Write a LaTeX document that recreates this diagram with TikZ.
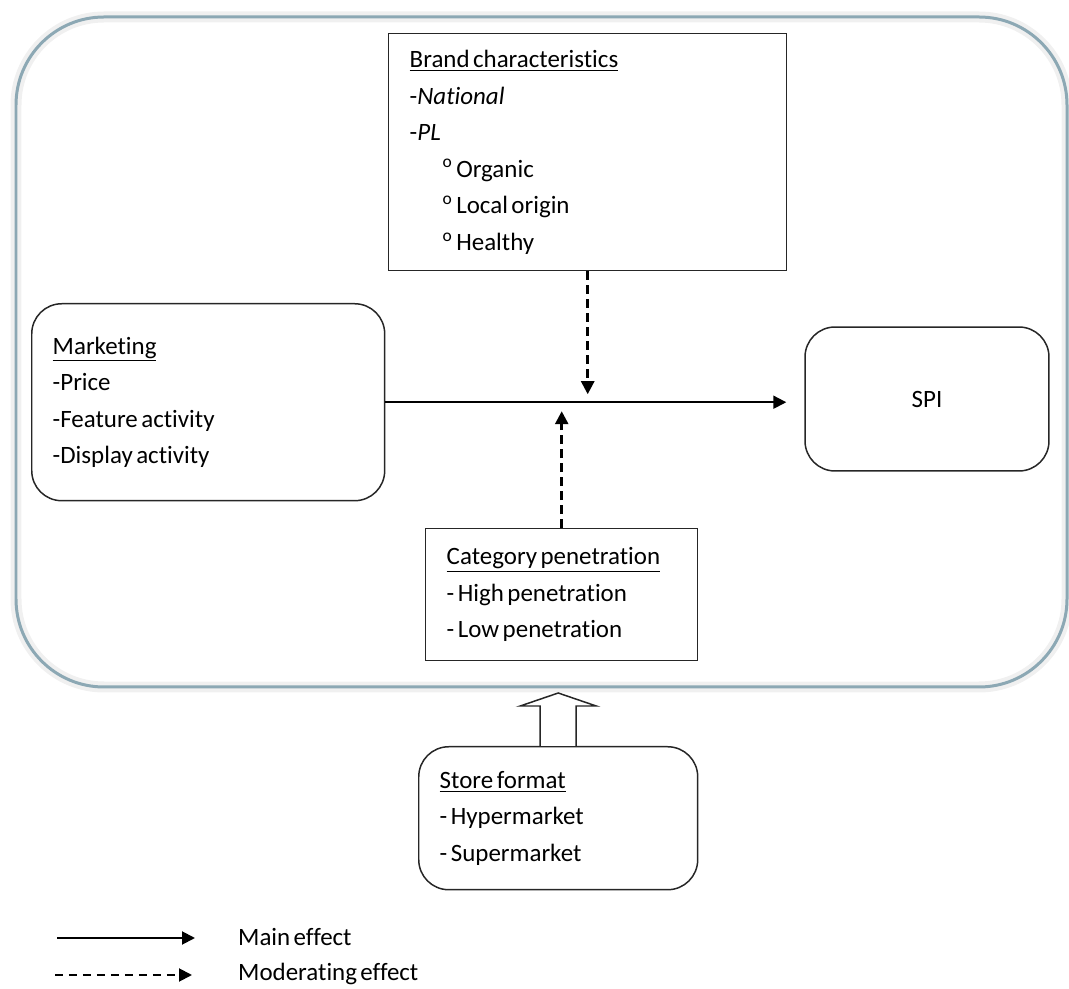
\documentclass[tikz,border=0pt]{standalone}
\usepackage{fontspec}
\setmainfont{Carlito}[WordSpace=0.6, Ligatures=CommonOff]
\usetikzlibrary{arrows.meta, positioning, calc}
\definecolor{framecol}{RGB}{140,168,180}

\begin{document}
\begin{tikzpicture}[
    x=0.02cm, y=-0.02cm,
    font=\fontsize{14.2pt}{20.8pt}\selectfont,
    box/.style={rectangle, draw=black!85, line width=0.85pt, align=left, inner xsep=0.42cm, inner ysep=0pt,
        execute at begin node={\spaceskip=0.14em\relax}},
    rbox/.style={box, rounded corners=0.6cm},
    arrow/.style={-{Triangle[length=0.26cm, width=0.26cm]}, line width=1.1pt},
    modarrow/.style={arrow, dash pattern=on 0.16cm off 0.12cm},
    modlink/.style={arrow, line width=1.5pt, dash pattern=on 0.18cm off 0.1cm},
    blockarrow/.style={draw=black!85, line width=0.85pt, fill=white}
]
\useasboundingbox (0,0) rectangle (1069,989);

% Frame
\draw[gray!12, line width=0.22cm, rounded corners=1.76cm] (16,17) rectangle (1067,687);
\draw[framecol, line width=0.06cm, rounded corners=1.76cm] (16,17) rectangle (1067,687);

% Constructs
\node[box, text width=7.12cm, minimum height=4.74cm, anchor=north west] (brand) at (388,33)
    {\underline{Brand characteristics}\\ -\textit{National}\\ -\textit{PL}\\
     \hspace*{0.66cm}\textsuperscript{o} Organic\\
     \hspace*{0.66cm}\textsuperscript{o} Local origin\\
     \hspace*{0.66cm}\textsuperscript{o} Healthy};
\node[rbox, text width=6.22cm, minimum height=3.94cm, anchor=north west] (marketing) at (31,303)
    {\underline{Marketing}\\ -Price\\ -Feature activity\\ -Display activity};
\node[rbox, align=center, inner xsep=0pt, minimum width=4.88cm, minimum height=2.88cm] (spi) at (927,399) {SPI};
\node[box, text width=4.6cm, minimum height=2.64cm, anchor=north west] (category) at (425,528)
    {\underline{Category penetration}\\ - High penetration\\ - Low penetration};
\node[rbox, text width=4.74cm, minimum height=2.86cm, anchor=north west] (store) at (418,746)
    {\underline{Store format}\\ - Hypermarket\\ - Supermarket};

% Connections
\coordinate (mid) at (brand.south |- marketing.east);
\draw[arrow, shorten >=0.36cm] (marketing.east) -- (marketing.east -| spi.west);
\draw[modlink, shorten >=0.16cm] (brand.south) -- (mid);
\draw[modlink, shorten >=0.18cm] (category.north) -- (category.north |- mid);
\draw[blockarrow] ($(store.north)+(-18,0)$) -- ++(0,-40) -- ++(-20,0) -- ($(store.north)+(0,-53)$)
    -- ($(store.north)+(38,-40)$) -- ++(-20,0) -- ($(store.north)+(18,0)$);

% Legend
\coordinate (main_a) at (57,938);
\coordinate (main_b) at (195,938);
\coordinate (mod_a) at (55,975);
\coordinate (mod_b) at (192,975);
\node[anchor=west] (main_lbl) at (232,937) {Main effect};
\node[anchor=west] (mod_lbl) at (232,974) {Moderating effect};
\draw[arrow] (main_a) -- (main_b);
\draw[modarrow] (mod_a) -- (mod_b);

\end{tikzpicture}
\end{document}
